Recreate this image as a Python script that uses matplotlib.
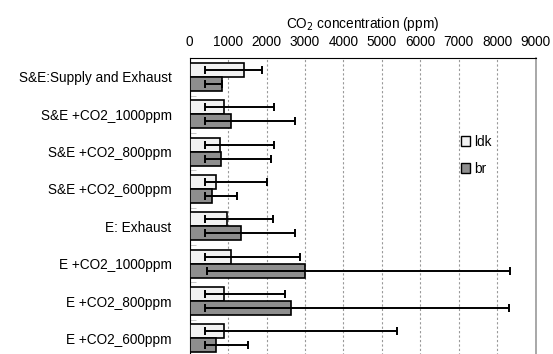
import numpy as np
import matplotlib
matplotlib.use('Agg')
import matplotlib.pyplot as plt
from matplotlib.patches import Patch

plt.rcParams['font.family'] = ['Liberation Sans', 'DejaVu Sans']
plt.rcParams['font.size'] = 9.8

# Data (ppm): mean bar, min/max whiskers
categories = ['S&E:Supply and Exhaust', 'S&E +CO2_1000ppm', 'S&E +CO2_800ppm',
              'S&E +CO2_600ppm', 'E: Exhaust', 'E +CO2_1000ppm',
              'E +CO2_800ppm', 'E +CO2_600ppm']
ldk_mean = [1420, 890, 780, 690, 970, 1070, 900, 900]
ldk_min = [400, 400, 400, 400, 400, 400, 400, 400]
ldk_max = [1870, 2200, 2190, 2000, 2180, 2880, 2480, 5390]
br_mean = [850, 1080, 810, 580, 1330, 3010, 2630, 680]
br_min = [400, 400, 400, 400, 400, 450, 400, 400]
br_max = [850, 2740, 2120, 1220, 2750, 8330, 8300, 1520]
xticks = [0, 1000, 2000, 3000, 4000, 5000, 6000, 7000, 8000, 9000]

fig = plt.figure(figsize=(5.53, 3.54), dpi=100)
ax = fig.add_axes([0.343, -0.0085, 0.6257, 0.8438])

y = np.arange(len(categories))
h = 0.375

ldk_mean = np.array(ldk_mean)
br_mean = np.array(br_mean)
ldk_err = [ldk_mean - np.array(ldk_min), np.array(ldk_max) - ldk_mean]
br_err = [br_mean - np.array(br_min), np.array(br_max) - br_mean]

ax.barh(y - h / 2, ldk_mean, height=h, color='#f2f2f2', edgecolor='black',
        linewidth=1.2, zorder=3)
ax.barh(y + h / 2, br_mean, height=h, color='#8e8e8e', edgecolor='black',
        linewidth=1.2, zorder=3)
ax.errorbar(ldk_mean, y - h / 2, xerr=ldk_err, fmt='none', ecolor='black',
            elinewidth=1.4, capsize=3, capthick=1.4, zorder=4)
ax.errorbar(br_mean, y + h / 2, xerr=br_err, fmt='none', ecolor='black',
            elinewidth=1.4, capsize=3, capthick=1.4, zorder=4)

ax.set_xlim(0, 9000)
ax.set_ylim(7.5, -0.5)
ax.set_xticks(xticks)
ax.xaxis.tick_top()
ax.xaxis.set_label_position('top')
ax.tick_params(axis='x', length=0, pad=7)
ax.set_xlabel('CO$_2$ concentration (ppm)', labelpad=5)

ax.set_yticks(y)
ax.set_yticklabels(categories)
ax.tick_params(axis='y', which='major', length=0, pad=13)
ax.set_yticks(np.arange(0.5, 7.5, 1), minor=True)
ax.tick_params(axis='y', which='minor', length=4, direction='in',
               color='#bbbbbb')

ax.grid(axis='x', linestyle=(0, (2, 2)), color='#999999', linewidth=0.8,
        zorder=0)
for s in ['top', 'left', 'bottom']:
    ax.spines[s].set_color('black')
ax.spines['right'].set_color('#999999')
ax.spines['right'].set_linewidth(1.2)

handles = [Patch(facecolor='#f2f2f2', edgecolor='black', label='ldk'),
           Patch(facecolor='#8e8e8e', edgecolor='black', label='br')]
ax.legend(handles=handles, frameon=False, loc='center left',
          bbox_to_anchor=(0.748, 0.675), handlelength=0.7, handleheight=0.7,
          handletextpad=0.3, labelspacing=0.95)

fig.savefig('out.png', dpi=100)
